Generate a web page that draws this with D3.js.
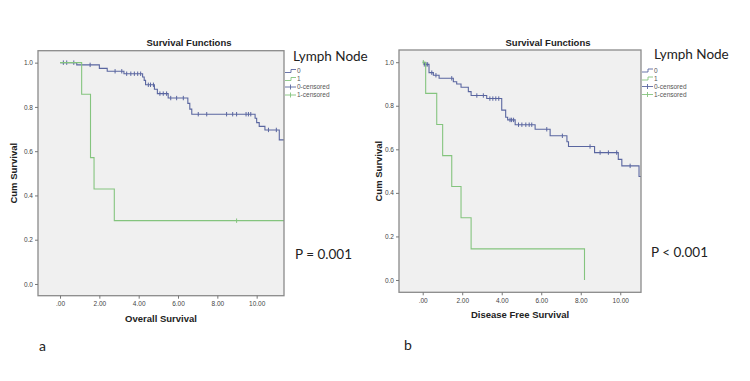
<!DOCTYPE html>
<html>
<head>
<meta charset="utf-8">
<script src="https://cdn.jsdelivr.net/npm/d3@7"></script>
<style>
  body { margin: 0; background: #fff; }
  svg text { font-family: "Liberation Sans", Arial, sans-serif; }
</style>
</head>
<body>
<div id="chart"></div>
<script>
// Overall survival (panel a)
const osTimes0 = [0, 0.85, 2.0, 2.4, 3.25, 4.2, 4.28, 4.35, 4.8, 4.95, 5.5, 6.5, 6.6, 6.7, 9.92, 10.0, 10.13, 10.42, 11.15]
const osSurv0 = [1.0, 0.99, 0.974, 0.961, 0.95, 0.935, 0.92, 0.9, 0.88, 0.86, 0.84, 0.816, 0.79, 0.767, 0.749, 0.729, 0.712, 0.696, 0.651]
const osCens0 = [0.17, 0.34, 0.7, 1.53, 2.8, 3.14, 3.39, 3.6, 3.78, 3.95, 4.1, 4.49, 4.6, 4.75, 5.08, 5.25, 5.42, 5.63, 5.93, 6.27, 7.03, 7.46, 8.47, 8.78, 8.98, 9.46, 9.58, 9.7, 10.6, 11.0]
const osTimes1 = [0, 1.1, 1.55, 1.73, 2.76]
const osSurv1 = [1.0, 0.857, 0.571, 0.429, 0.286]
const osCens1 = [8.98]
const osEnd = [11.4, 11.4]

// Disease free survival (panel b)
const dfsTimes0 = [0, 0.07, 0.32, 0.54, 0.83, 1.55, 1.72, 1.94, 2.31, 2.45, 3.24, 4.0, 4.2, 4.3, 4.68, 5.69, 6.45, 7.3, 7.38, 8.7, 9.9, 10.08, 10.95]
const dfsSurv0 = [1.0, 0.99, 0.952, 0.94, 0.926, 0.91, 0.9, 0.885, 0.865, 0.847, 0.833, 0.78, 0.747, 0.735, 0.713, 0.692, 0.662, 0.635, 0.613, 0.585, 0.554, 0.524, 0.475]
const dfsCens0 = [0.08, 0.17, 0.25, 0.46, 0.67, 1.47, 2.74, 3.07, 3.4, 3.55, 3.7, 3.85, 4.42, 4.5, 4.6, 4.85, 5.02, 5.22, 5.39, 5.52, 6.28, 7.07, 8.47, 8.98, 9.4, 9.82, 10.5]
const dfsTimes1 = [0, 0.15, 0.71, 1.01, 1.47, 1.94, 2.45, 8.19]
const dfsSurv1 = [1.0, 0.857, 0.714, 0.571, 0.429, 0.286, 0.143, 0.0]
const dfsCens1 = [0.03]
const dfsEnd = [11.05, 8.19]

const yTicks = [0, 0.2, 0.4, 0.6, 0.8, 1.0]
const xTicks = [0, 2, 4, 6, 8, 10]
const legendLabels = ['0', '1', '0-censored', '1-censored']
const colors = ['#5a66a0', '#84c47e']

const width = 750, height = 381

const svg = d3.select('#chart')
   .append('svg')
   .attr('width', width)
   .attr('height', height)

const panels = [
   {
      frame: { x0: 38, x1: 284, y0: 50.7, y1: 295.7 },
      xDomain: [-1.12, 11.39], yDomain: [-0.053, 1.054],
      groups: [
         { t: osTimes0, s: osSurv0, c: osCens0, end: osEnd[0] },
         { t: osTimes1, s: osSurv1, c: osCens1, end: osEnd[1] },
      ],
      xTitle: 'Overall Survival', yTitleX: 14, titleX: 189,
      legendX: 285, legendY: 71, nodeX: 293, nodeY: 61,
      pText: 'P = 0.001', pX: 295, pY: 259, letter: 'a', letterX: 39, letterY: 351,
   },
   {
      frame: { x0: 399, x1: 641, y0: 50, y1: 292.3 },
      xDomain: [-1.2, 11.05], yDomain: [-0.0565, 1.056],
      groups: [
         { t: dfsTimes0, s: dfsSurv0, c: dfsCens0, end: dfsEnd[0] },
         { t: dfsTimes1, s: dfsSurv1, c: dfsCens1, end: dfsEnd[1] },
      ],
      xTitle: 'Disease Free Survival', yTitleX: 379, titleX: 548,
      legendX: 642, legendY: 70.5, nodeX: 654, nodeY: 59,
      pText: 'P < 0.001', pX: 651, pY: 257, letter: 'b', letterX: 404, letterY: 350,
   },
]

const survAt = (g, t) => {
   let s = g.s[0]
   g.t.forEach((tt, i) => { if (tt <= t) s = g.s[i] })
   return s
}

panels.forEach(p => {
   const f = p.frame
   const x = d3.scaleLinear().domain(p.xDomain).range([f.x0, f.x1])
   const y = d3.scaleLinear().domain(p.yDomain).range([f.y1, f.y0])

   svg.append('rect')
      .attr('x', f.x0).attr('y', f.y0)
      .attr('width', f.x1 - f.x0).attr('height', f.y1 - f.y0)
      .attr('fill', '#f0f0f0')

   const clipId = 'clip' + p.letter
   svg.append('clipPath').attr('id', clipId)
      .append('rect')
      .attr('x', f.x0).attr('y', f.y0)
      .attr('width', f.x1 - f.x0).attr('height', f.y1 - f.y0)

   const plot = svg.append('g').attr('clip-path', `url(#${clipId})`)
   const line = d3.line().x(d => x(d[0])).y(d => y(d[1])).curve(d3.curveStepAfter)

   p.groups.forEach((g, gi) => {
      const pts = g.t.map((t, i) => [t, g.s[i]])
      pts.push([g.end, g.s[g.s.length - 1]])
      plot.append('path')
         .attr('d', line(pts))
         .attr('fill', 'none')
         .attr('stroke', colors[gi])
         .attr('stroke-width', 1.1)

      plot.selectAll(null)
         .data(g.c)
         .enter()
         .append('line')
         .attr('x1', d => x(d)).attr('x2', d => x(d))
         .attr('y1', d => y(survAt(g, d)) - 2.2)
         .attr('y2', d => y(survAt(g, d)) + 2.2)
         .attr('stroke', colors[gi])
         .attr('stroke-width', 1)
   })

   svg.append('rect')
      .attr('x', f.x0).attr('y', f.y0)
      .attr('width', f.x1 - f.x0).attr('height', f.y1 - f.y0)
      .attr('fill', 'none')
      .attr('stroke', '#8a8a8a')
      .attr('stroke-width', 1.3)

   const yAxis = svg.append('g')
      .attr('transform', `translate(${f.x0},0)`)
      .call(d3.axisLeft(y).tickValues(yTicks).tickFormat(d3.format('.1f')).tickSize(3).tickPadding(2))
   const xAxis = svg.append('g')
      .attr('transform', `translate(0,${f.y1})`)
      .call(d3.axisBottom(x).tickValues(xTicks)
         .tickFormat(d => d === 0 ? '.00' : d.toFixed(2)).tickSize(3).tickPadding(3))
   ;[yAxis, xAxis].forEach(a => {
      a.select('.domain').remove()
      a.selectAll('line').attr('stroke', '#777')
      a.selectAll('text').attr('fill', '#444').style('font-size', '6.5px')
   })

   svg.append('text')
      .attr('x', p.titleX).attr('y', 46)
      .attr('text-anchor', 'middle')
      .style('font-size', '9.5px').style('font-weight', 'bold')
      .attr('fill', '#222')
      .text('Survival Functions')

   svg.append('text')
      .attr('x', (f.x0 + f.x1) / 2).attr('y', f.y1 + 26)
      .attr('text-anchor', 'middle')
      .style('font-size', '9.5px').style('font-weight', 'bold')
      .attr('fill', '#222')
      .text(p.xTitle)

   svg.append('text')
      .attr('transform', `translate(${p.yTitleX},${(f.y0 + f.y1) / 2}) rotate(-90)`)
      .attr('text-anchor', 'middle')
      .attr('dy', '0.35em')
      .style('font-size', '9.5px').style('font-weight', 'bold')
      .attr('fill', '#222')
      .text('Cum Survival')

   svg.append('text')
      .attr('x', p.nodeX).attr('y', p.nodeY)
      .style('font-family', 'Lato, sans-serif')
      .style('font-size', '13.5px')
      .attr('fill', '#222')
      .text('Lymph Node')

   const lg = svg.append('g').attr('transform', `translate(${p.legendX},${p.legendY})`)
   legendLabels.forEach((lab, i) => {
      const row = lg.append('g').attr('transform', `translate(0,${i * 8})`)
      const col = colors[i % 2]
      if (i < 2) {
         row.append('path')
            .attr('d', 'M0,1.5 H6 V-1.5 H11')
            .attr('fill', 'none').attr('stroke', col).attr('stroke-width', 0.9)
      } else {
         row.append('line').attr('x1', 0).attr('x2', 11).attr('y1', 0).attr('y2', 0)
            .attr('stroke', col).attr('stroke-width', 0.9)
         row.append('line').attr('x1', 5.5).attr('x2', 5.5).attr('y1', -2.5).attr('y2', 2.5)
            .attr('stroke', col).attr('stroke-width', 0.9)
      }
      row.append('text')
         .attr('x', 12).attr('y', 0).attr('dy', '0.35em')
         .style('font-size', '6.5px')
         .attr('fill', '#555')
         .text(lab)
   })

   svg.append('text')
      .attr('x', p.pX).attr('y', p.pY)
      .style('font-family', 'Lato, sans-serif')
      .style('font-size', '13.5px')
      .attr('fill', '#222')
      .text(p.pText)

   svg.append('text')
      .attr('x', p.letterX).attr('y', p.letterY)
      .style('font-family', 'Lato, sans-serif')
      .style('font-size', '14px')
      .attr('fill', '#222')
      .text(p.letter)
})
</script>
</body>
</html>
